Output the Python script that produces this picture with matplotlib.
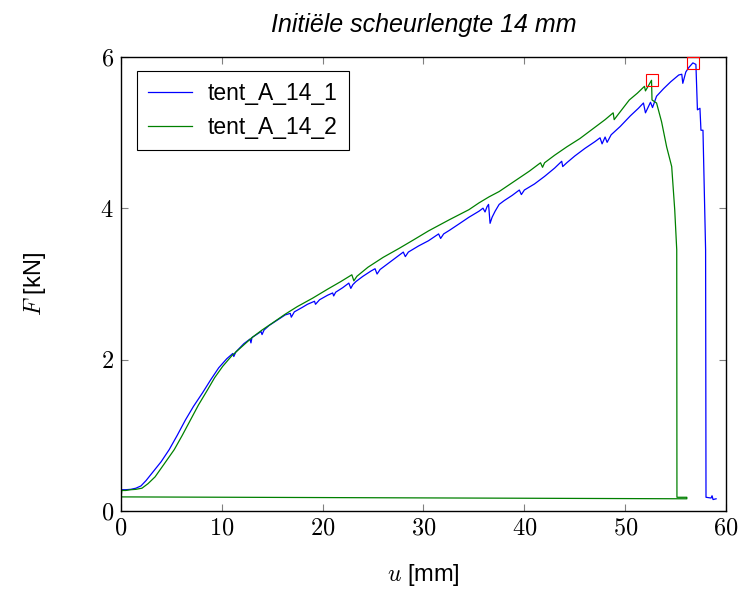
import matplotlib.pyplot as plt

plt.rcParams['mathtext.fontset'] = 'cm'
plt.rcParams['font.family'] = ['Liberation Sans', 'DejaVu Sans']

# Proef tent_A_14_1 (blauw)
u_1 = [0.0, 0.1, 0.5, 1.0, 1.5, 2.0, 2.5, 3.1, 4.0, 4.8, 5.6, 6.4, 7.2, 8.1,
       8.9, 9.7, 10.5, 11.1, 11.2, 11.4, 12.2, 12.8, 12.9, 13.0, 13.9, 14.0,
       14.2, 14.7, 15.5, 16.3, 16.8, 16.9, 17.2, 18.0, 18.5, 19.2, 19.3, 19.7,
       20.5, 21.0, 21.1, 21.3, 22.0, 22.6, 22.8, 23.0, 23.3, 24.0, 24.8, 25.2,
       25.4, 25.7, 26.5, 27.6, 28.0, 28.2, 28.5, 29.5, 30.5, 31.5, 31.7, 32.0,
       32.6, 33.5, 34.5, 35.5, 35.9, 36.1, 36.3, 36.45, 36.6, 36.8, 37.1, 37.5,
       38.0, 38.8, 39.5, 39.7, 40.0, 41.0, 42.0, 43.0, 43.7, 43.8, 44.2, 45.0,
       46.0, 47.0, 47.5, 47.7, 48.0, 48.2, 48.6, 49.5, 50.5, 51.3, 51.8, 52.0,
       52.5, 52.7, 53.1, 53.8, 54.5, 55.3, 55.6, 55.7, 56.0, 56.3, 56.7, 57.0,
       57.15, 57.4, 57.5, 57.7, 57.96, 58.0, 58.5, 58.6, 58.7, 59.0]
F_1 = [0.27, 0.28, 0.28, 0.285, 0.30, 0.33, 0.40, 0.50, 0.65, 0.81, 1.00, 1.20,
       1.38, 1.56, 1.73, 1.89, 2.01, 2.08, 2.04, 2.10, 2.21, 2.27, 2.22, 2.29,
       2.37, 2.33, 2.39, 2.45, 2.52, 2.59, 2.61, 2.56, 2.63, 2.69, 2.73, 2.77,
       2.73, 2.79, 2.85, 2.88, 2.84, 2.89, 2.95, 3.01, 2.94, 2.99, 3.03, 3.10,
       3.17, 3.20, 3.13, 3.19, 3.27, 3.38, 3.42, 3.36, 3.42, 3.50, 3.57, 3.66,
       3.60, 3.66, 3.71, 3.79, 3.88, 3.96, 4.00, 3.95, 4.02, 4.05, 3.80, 3.88,
       3.96, 4.05, 4.10, 4.17, 4.24, 4.18, 4.24, 4.32, 4.42, 4.53, 4.62, 4.55,
       4.60, 4.69, 4.79, 4.88, 4.93, 4.85, 4.94, 4.87, 4.97, 5.08, 5.22, 5.32,
       5.39, 5.26, 5.40, 5.33, 5.48, 5.58, 5.67, 5.76, 5.77, 5.65, 5.80, 5.86,
       5.92, 5.90, 5.30, 5.32, 5.03, 5.03, 3.45, 0.18, 0.17, 0.20, 0.15, 0.16]

# Proef tent_A_14_2 (groen)
u_2 = [0.0, 0.0, 0.05, 0.1, 0.5, 1.0, 1.5, 2.1, 2.7, 3.4, 4.3, 5.3, 6.1, 6.9,
       7.7, 8.6, 9.3, 10.1, 11.0, 12.0, 13.0, 14.0, 15.0, 16.3, 17.5, 19.0,
       20.5, 21.8, 22.9, 23.1, 23.4, 24.5, 26.0, 27.6, 29.0, 30.5, 32.6, 34.5,
       35.5, 36.5, 37.5, 38.5, 39.5, 40.5, 41.6, 41.8, 42.0, 43.0, 44.2, 45.5,
       46.5, 47.3, 48.0, 48.8, 48.9, 49.3, 50.4, 51.2, 51.9, 52.0, 52.3, 52.6,
       52.65, 53.1, 53.6, 54.1, 54.6, 54.9, 55.1, 55.12, 56.1, 56.1, 0.05]
F_2 = [0.18, 0.30, 0.20, 0.27, 0.27, 0.28, 0.285, 0.30, 0.36, 0.45, 0.62, 0.81,
       1.00, 1.20, 1.40, 1.60, 1.76, 1.91, 2.05, 2.17, 2.29, 2.39, 2.48, 2.60,
       2.70, 2.81, 2.93, 3.03, 3.12, 3.04, 3.10, 3.22, 3.35, 3.47, 3.58, 3.70,
       3.85, 3.98, 4.07, 4.15, 4.22, 4.31, 4.40, 4.49, 4.60, 4.54, 4.60, 4.70,
       4.81, 4.92, 5.02, 5.10, 5.17, 5.26, 5.17, 5.24, 5.43, 5.52, 5.61, 5.55,
       5.62, 5.69, 5.43, 5.39, 5.14, 4.81, 4.55, 3.98, 3.45, 0.18, 0.18, 0.16,
       0.185]

# Maximale kracht per proef
peak_u = [56.7, 52.6]
peak_F = [5.92, 5.69]

fig = plt.figure(figsize=(7.41, 5.92), dpi=100)
ax = fig.add_axes([0.163, 0.137, 0.817, 0.767])

ax.plot(u_1, F_1, color='blue', lw=0.9, label='tent_A_14_1')
ax.plot(u_2, F_2, color='#008000', lw=0.9, label='tent_A_14_2')
ax.plot(peak_u, peak_F, ls='none', marker='s', ms=8, mfc='none',
        mec='red', mew=0.8, clip_on=False, zorder=5)

ax.set_xlim(0, 60)
ax.set_ylim(0, 6)
ax.set_xticks([0, 10, 20, 30, 40, 50, 60])
ax.set_yticks([0, 2, 4, 6])
ax.set_xticklabels([f'${v}$' for v in [0, 10, 20, 30, 40, 50, 60]], fontsize=17.5)
ax.set_yticklabels([f'${v}$' for v in [0, 2, 4, 6]], fontsize=17.5)
ax.tick_params(direction='in', length=5, width=0.8, color='#808080',
               top=True, right=True, pad=5)
for s in ax.spines.values():
    s.set_linewidth(1.0)

ax.set_xlabel('$u$ [mm]', fontsize=17, labelpad=16)
ax.set_ylabel('$F$ [kN]', fontsize=17, labelpad=38)
ax.set_title('Initiële scheurlengte 14 mm', fontsize=18, style='italic', pad=18)

leg = ax.legend(loc='upper left', fontsize=16.5, fancybox=False, framealpha=1,
                edgecolor='black', handlelength=1.9, handletextpad=0.7,
                borderpad=0.5, labelspacing=0.45,
                bbox_to_anchor=(0.026, 0.969), borderaxespad=0)
leg.get_frame().set_linewidth(0.8)

fig.savefig('out.png', dpi=100)
